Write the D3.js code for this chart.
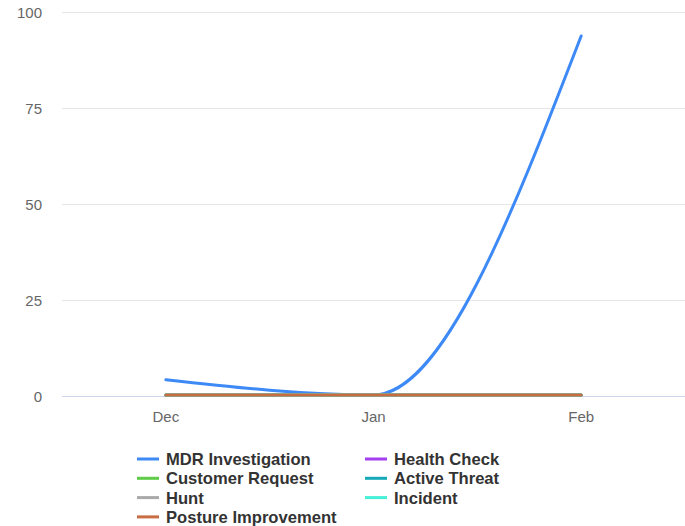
<!DOCTYPE html>
<html>
<head>
<meta charset="utf-8">
<script src="https://cdn.jsdelivr.net/npm/d3@7"></script>
<style>
  body { margin: 0; background: #fff; }
  svg { display: block; font-family: "Liberation Sans", Arial, sans-serif; }
</style>
</head>
<body>
<div id="chart"></div>
<script>
// Data
const months = ['Dec', 'Jan', 'Feb'];
const seriesNames = ['MDR Investigation', 'Health Check', 'Customer Request', 'Active Threat', 'Hunt', 'Incident', 'Posture Improvement'];
const seriesColors = ['#3d8af7', '#a43ff0', '#5fcb48', '#16a8b8', '#a9a9a9', '#45f0d6', '#c96c42'];
const seriesValues = [
    [4, 0, 93.5],
    [0, 0, 0],
    [0, 0, 0],
    [0, 0, 0],
    [0, 0, 0],
    [0, 0, 0],
    [0, 0, 0]
];
const yTicks = [0, 25, 50, 75, 100];

const width = 685;
const height = 526;
const margin = { left: 62, right: 0, top: 12, bottom: 130 };

const svg = d3.select('#chart')
    .append('svg')
    .attr('width', width)
    .attr('height', height);

const x = d3.scaleBand()
    .domain(months)
    .range([margin.left, width - margin.right]);

const y = d3.scaleLinear()
    .domain([0, 100])
    .range([height - margin.bottom, margin.top]);

// Gridlines
svg.append('g')
    .selectAll('line')
    .data(yTicks)
    .enter()
    .append('line')
    .attr('x1', margin.left)
    .attr('x2', width - margin.right)
    .attr('y1', d => Math.round(y(d)) + 0.5)
    .attr('y2', d => Math.round(y(d)) + 0.5)
    .attr('stroke', d => d === 0 ? '#ccd6eb' : '#e6e6e6')
    .attr('stroke-width', 1);

// Y labels
svg.append('g')
    .selectAll('text')
    .data(yTicks)
    .enter()
    .append('text')
    .attr('x', 42)
    .attr('y', d => y(d) + 6)
    .attr('text-anchor', 'end')
    .attr('font-size', '15px')
    .attr('fill', '#666')
    .text(d => d);

// X labels
svg.append('g')
    .selectAll('text')
    .data(months)
    .enter()
    .append('text')
    .attr('x', d => x(d) + x.bandwidth() / 2)
    .attr('y', height - margin.bottom + 26)
    .attr('text-anchor', 'middle')
    .attr('font-size', '15px')
    .attr('fill', '#666')
    .text(d => d);

// Lines
const line = d3.line()
    .x((d, i) => x(months[i]) + x.bandwidth() / 2)
    .y(d => y(d) - 1)
    .curve(d3.curveMonotoneX);

svg.append('g')
    .selectAll('path')
    .data(seriesValues)
    .enter()
    .append('path')
    .attr('d', d => line(d))
    .attr('fill', 'none')
    .attr('stroke', (d, i) => seriesColors[i])
    .attr('stroke-width', 3)
    .attr('stroke-linecap', 'round');

// Legend
const legendCols = [137, 365];
const legendRowY = 459;
const legendRowGap = 19.3;
const legend = svg.append('g')
    .selectAll('g')
    .data(seriesNames)
    .enter()
    .append('g')
    .attr('transform', (d, i) => {
        const col = i % 2;
        const row = Math.floor(i / 2);
        return `translate(${legendCols[col]},${legendRowY + row * legendRowGap})`;
    });

legend.append('rect')
    .attr('x', 0)
    .attr('y', -1.5)
    .attr('width', 22)
    .attr('height', 3)
    .attr('fill', (d, i) => seriesColors[i]);

legend.append('text')
    .attr('x', 29)
    .attr('y', 6)
    .attr('font-size', '16.6px')
    .attr('font-weight', 'bold')
    .attr('fill', '#333')
    .text(d => d);
</script>
</body>
</html>
